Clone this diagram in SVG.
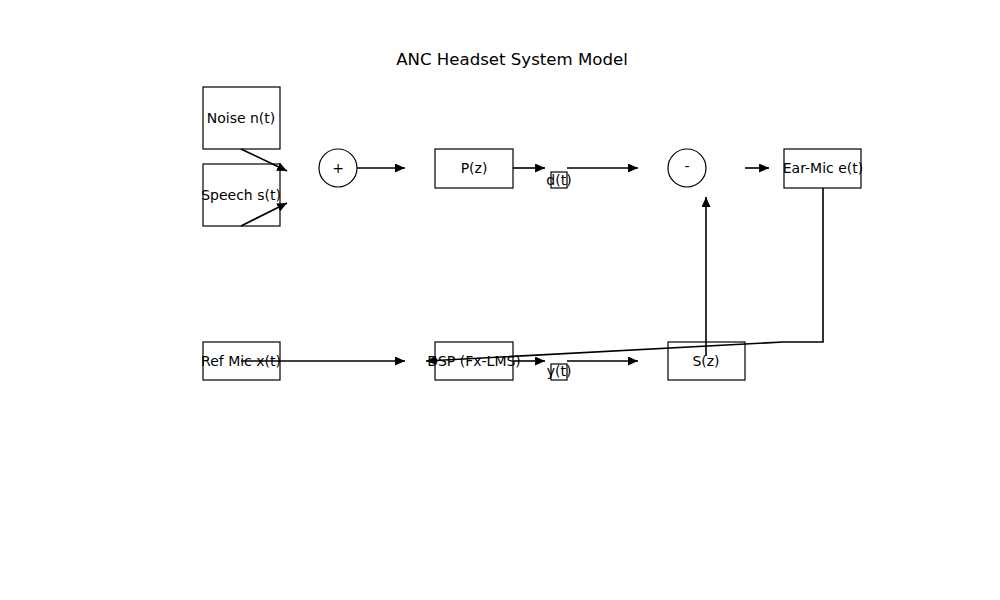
<svg xmlns="http://www.w3.org/2000/svg" width="1000" height="600" viewBox="0 0 1000 600">
<style>
.box{fill:#fff;stroke:#000;stroke-width:1.2}
.lbl{font-family:"DejaVu Sans",sans-serif;font-size:14px;fill:#000;text-anchor:middle;dominant-baseline:central}
.ln{fill:none;stroke:#000;stroke-width:1.6}
</style>
<defs>
<marker id="ah" viewBox="0 0 10 9" refX="10" refY="4.5" markerWidth="10" markerHeight="9" markerUnits="userSpaceOnUse" orient="auto">
<path d="M0,0 L10,4.5 L0,9 Z" fill="#000"/>
</marker>
</defs>
<rect width="1000" height="600" fill="#fff"/>
<text x="512" y="59" class="lbl" style="font-size:16.6px">ANC Headset System Model</text>
<g id="noise"><rect class="box" x="203" y="87" width="77" height="62"/><text class="lbl" x="241" y="118">Noise n(t)</text></g>
<g id="speech"><rect class="box" x="203" y="164" width="77" height="62"/><text class="lbl" x="241" y="195">Speech s(t)</text></g>
<g id="sum"><circle class="box" cx="338" cy="168" r="19"/><text class="lbl" x="338" y="168">+</text></g>
<g id="pz"><rect class="box" x="435" y="149" width="78" height="39"/><text class="lbl" x="474" y="168">P(z)</text></g>
<g id="dt"><rect class="box" x="551" y="172" width="16" height="16"/><text class="lbl" x="559" y="180">d(t)</text></g>
<g id="diff"><circle class="box" cx="687" cy="168" r="19"/><text class="lbl" x="687" y="166">-</text></g>
<g id="earmic"><rect class="box" x="784" y="149" width="77" height="39"/><text class="lbl" x="823" y="168">Ear-Mic e(t)</text></g>
<g id="refmic"><rect class="box" x="203" y="342" width="77" height="38"/><text class="lbl" x="241" y="361">Ref Mic x(t)</text></g>
<g id="dsp"><rect class="box" x="435" y="342" width="78" height="38"/><text class="lbl" x="474" y="361">DSP (Fx-LMS)</text></g>
<g id="yt"><rect class="box" x="551" y="364" width="16" height="16"/><text class="lbl" x="559" y="371">y(t)</text></g>
<g id="sz"><rect class="box" x="668" y="342" width="77" height="38"/><text class="lbl" x="706" y="361">S(z)</text></g>
<g id="connectors">
<line class="ln" x1="241" y1="149" x2="287" y2="171" marker-end="url(#ah)"/>
<line class="ln" x1="241" y1="226" x2="287" y2="203" marker-end="url(#ah)"/>
<line class="ln" x1="357" y1="168" x2="405" y2="168" marker-end="url(#ah)"/>
<line class="ln" x1="513" y1="168" x2="545" y2="168" marker-end="url(#ah)"/>
<line class="ln" x1="567" y1="168" x2="638" y2="168" marker-end="url(#ah)"/>
<line class="ln" x1="745" y1="168" x2="769" y2="168" marker-end="url(#ah)"/>
<polyline class="ln" points="823,188 823,342 783,342 426,361" marker-end="url(#ah)"/>
<line class="ln" x1="706" y1="356" x2="706" y2="197" marker-end="url(#ah)"/>
<line class="ln" x1="241" y1="361" x2="405" y2="361" marker-end="url(#ah)"/>
<line class="ln" x1="513" y1="361" x2="545" y2="361" marker-end="url(#ah)"/>
<line class="ln" x1="567" y1="361" x2="638" y2="361" marker-end="url(#ah)"/>
</g>
</svg>
